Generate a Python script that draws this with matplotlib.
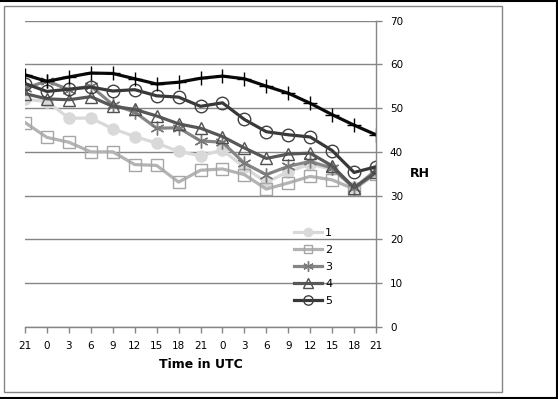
import matplotlib
matplotlib.use('Agg')
import matplotlib.pyplot as plt
from matplotlib.lines import Line2D
from matplotlib.patches import Rectangle

# x categories (hours, UTC)
hours = ['21', '0', '3', '6', '9', '12', '15', '18', '21', '0', '3', '6', '9', '12', '15', '18', '21']

s1 = [52.0, 51.5, 47.7, 47.7, 45.3, 43.5, 42.0, 40.1, 39.1, 40.4, 36.5, 33.0, 35.5, 37.2, 36.0, 32.0, 35.5]
s2 = [46.7, 43.3, 42.2, 40.0, 40.0, 37.1, 36.9, 33.1, 35.8, 36.1, 34.8, 31.5, 32.9, 34.4, 33.6, 31.5, 35.0]
s3 = [54.5, 56.2, 54.2, 55.0, 50.8, 49.1, 45.4, 45.5, 42.5, 42.2, 37.4, 34.8, 36.7, 37.8, 36.3, 31.7, 35.8]
s4 = [53.3, 52.1, 51.9, 52.6, 50.4, 49.7, 48.2, 46.4, 45.4, 43.5, 40.9, 38.5, 39.5, 39.7, 36.8, 31.8, 35.3]
s5 = [55.6, 53.8, 54.3, 54.8, 53.9, 54.2, 52.8, 52.5, 50.4, 51.2, 47.4, 44.6, 43.9, 43.4, 40.3, 35.3, 36.6]
s6 = [57.6, 56.1, 57.1, 58.0, 57.9, 56.7, 55.5, 55.9, 56.8, 57.3, 56.7, 55.0, 53.4, 51.1, 48.5, 46.1, 43.9]

W, H = 558, 399
fig = plt.figure(figsize=(W / 100, H / 100), dpi=100)
ax = fig.add_axes([25 / W, 72 / H, (376 - 25) / W, (327 - 20.5) / H])

x = list(range(len(hours)))
lw = 2.3
ax.plot(x, s1, color='#d9d9d9', lw=lw, marker='o', ms=8, mfc='#d9d9d9', mec='#d9d9d9', label='1')
ax.plot(x, s2, color='#b3b3b3', lw=lw, marker='s', ms=8, mfc='none', mec='#a6a6a6', mew=1, label='2')
ax.plot(x, s3, color='#858585', lw=lw, marker=(6, 2, 0), ms=10, mec='#7a7a7a', mew=1, label='3')
ax.plot(x, s4, color='#575757', lw=lw, marker='^', ms=9, mfc='none', mec='#505050', mew=1, label='4')
ax.plot(x, s5, color='#383838', lw=lw, marker='o', ms=9, mfc='none', mec='#404040', mew=1, label='5')
ax.plot(x, s6, color='#0a0a0a', lw=lw, marker='+', ms=10, mec='#000000', mew=1, label='_nolegend_')

ax.set_xlim(0, 16)
ax.set_ylim(0, 70)
ax.set_yticks(range(0, 71, 10))
ax.set_xticks(x)
ax.set_xticklabels(hours)
ax.yaxis.tick_right()
ax.yaxis.set_label_position('right')
ax.grid(axis='y', color='#868686', lw=1)
ax.set_axisbelow(True)
for side in ['top', 'left']:
    ax.spines[side].set_visible(False)
for side in ['right', 'bottom']:
    ax.spines[side].set_color('#868686')
    ax.spines[side].set_linewidth(1)
ax.tick_params(axis='both', colors='#868686', labelcolor='#000000', labelsize=7.5, length=4, width=1)
ax.tick_params(axis='x', pad=6)
ax.tick_params(axis='y', pad=6)

ax.set_xlabel('Time in UTC', fontsize=9, fontweight='bold', labelpad=5)
ax.set_ylabel('RH', fontsize=9, fontweight='bold', rotation=0, labelpad=12, va='center')

handles, labels = ax.get_legend_handles_labels()
fig.legend(handles, labels, loc='upper left', bbox_to_anchor=(294 / W, 1 - 228 / H),
           frameon=False, fontsize=8, handlelength=2.5, handletextpad=0.3, markerscale=0.75,
           labelspacing=0.62, borderpad=0, borderaxespad=0)

# chart area frame and outer border
fig.patches.append(Rectangle((4 / W, 7 / H), 498 / W, 386 / H, transform=fig.transFigure,
                             fill=False, ec='#868686', lw=1))
fig.lines.append(Line2D([0, 1], [1 - 0.5 / H, 1 - 0.5 / H], transform=fig.transFigure, color='black', lw=1.5))
fig.lines.append(Line2D([0, 1], [1.5 / H, 1.5 / H], transform=fig.transFigure, color='black', lw=1.5))
fig.lines.append(Line2D([1 - 1.5 / W, 1 - 1.5 / W], [0, 1], transform=fig.transFigure, color='black', lw=1.5))

fig.savefig('out.png', dpi=100)
